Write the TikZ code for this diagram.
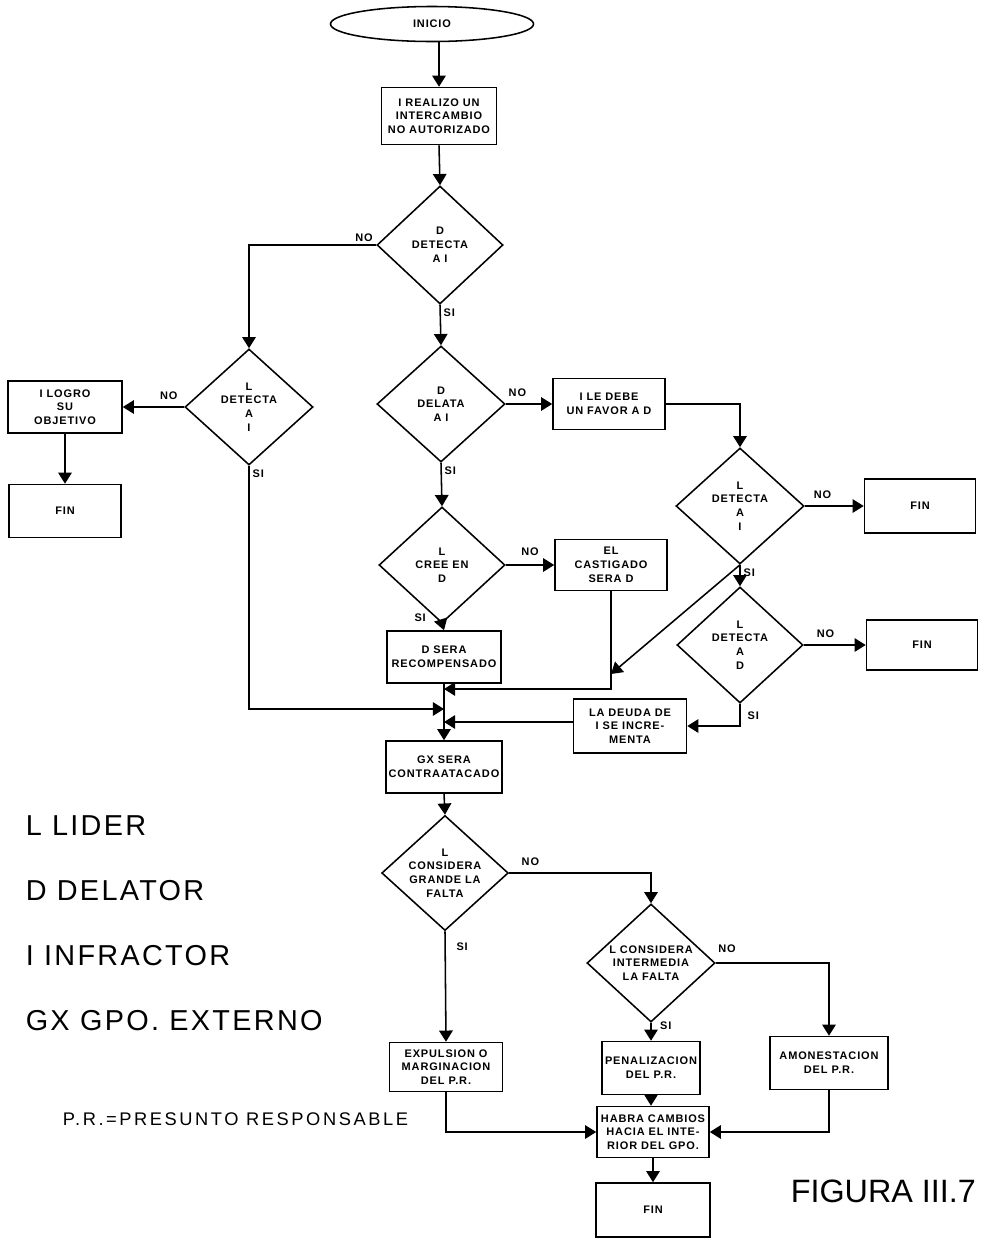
\documentclass[tikz,border=0pt]{standalone}
\usepackage{fontspec}
\setmainfont{Liberation Sans}
\newfontfamily\boxfont[LetterSpace=8]{Liberation Sans}
\newfontfamily\legfont[LetterSpace=8]{Liberation Sans}
\newfontfamily\notefont[LetterSpace=14]{Liberation Sans}
\usetikzlibrary{shapes.geometric, arrows.meta, positioning}

\begin{document}
\begin{tikzpicture}[x=0.025cm, y=-0.025cm, line width=1.1pt,
    flow/.style={-{Triangle[length=2.8mm,width=3.4mm]}},
    proc/.style={draw, rectangle, align=center, inner sep=1pt,
        font=\boxfont\bfseries\fontsize{7.8}{9.8}\selectfont},
    decide/.style={draw, diamond, aspect=1.1, align=center, inner sep=0pt,
        font=\boxfont\bfseries\fontsize{7.8}{9.8}\selectfont},
    lbl/.style={font=\boxfont\bfseries\fontsize{7.8}{9}\selectfont, inner sep=2pt},
    legend/.style={anchor=base west, inner sep=0pt, font=\legfont\fontsize{20.5}{24}\selectfont}]
    \useasboundingbox (0,0) rectangle (984,1239);

    % --- 1. Start and first question ---
    \node[draw, ellipse, minimum width=5.075cm, minimum height=0.875cm,
        font=\boxfont\bfseries\fontsize{7.8}{9}\selectfont] (inicio) at (432,24) {INICIO};
    \node[proc, minimum width=2.875cm, minimum height=1.425cm] (realizo) at (439,116) {I REALIZO UN\\INTERCAMBIO\\NO AUTORIZADO};
    \node[decide, minimum width=3.15cm, minimum height=2.95cm] (detD) at (440,245) {D\\DETECTA\\A I};

    % --- 2. Left branch: L detects I ---
    \node[decide, minimum width=3.2cm, minimum height=2.9cm] (detL) at (249,407) {L\\DETECTA\\A\\I};
    \node[proc, minimum width=2.85cm, minimum height=1.3cm] (logro) at (65,407) {I LOGRO\\SU\\OBJETIVO};
    \node[proc, minimum width=2.8cm, minimum height=1.325cm] (finA) at (65,511) {FIN};

    % --- 3. Middle branch: D informs ---
    \node[decide, minimum width=3.2cm, minimum height=2.9cm] (delata) at (441,404) {D\\DELATA\\A I};
    \node[proc, minimum width=2.8cm, minimum height=1.275cm] (favor) at (609,404) {I LE DEBE\\UN FAVOR A D};
    \node[decide, minimum width=3.15cm, minimum height=2.9cm] (cree) at (442,565) {L\\CREE EN\\D};
    \node[proc, minimum width=2.8cm, minimum height=1.275cm] (castigo) at (611,565) {EL\\CASTIGADO\\SERA D};
    \node[proc, minimum width=2.85cm, minimum height=1.3cm] (premio) at (444,657) {D SERA\\RECOMPENSADO};

    % --- 4. Right branch: the favour ---
    \node[decide, minimum width=3.2cm, minimum height=2.9cm] (detLI) at (740,506) {L\\DETECTA\\A\\I};
    \node[proc, minimum width=2.775cm, minimum height=1.35cm] (finB) at (920,506) {FIN};
    \node[decide, minimum width=3.15cm, minimum height=2.9cm] (detLD) at (740,645) {L\\DETECTA\\A\\D};
    \node[proc, minimum width=2.775cm, minimum height=1.25cm] (finC) at (922,645) {FIN};
    \node[proc, minimum width=2.825cm, minimum height=1.35cm] (deuda) at (630,726) {LA DEUDA DE\\I SE INCRE-\\MENTA};

    % --- 5. Counter attack and sanctions ---
    \node[proc, minimum width=2.9cm, minimum height=1.3cm] (gx) at (444,767) {GX SERA\\CONTRAATACADO};
    \node[decide, minimum width=3.15cm, minimum height=2.85cm] (grande) at (445,873) {L\\CONSIDERA\\GRANDE LA\\FALTA};
    \node[decide, minimum width=3.2cm, minimum height=2.95cm] (media) at (651,963) {L CONSIDERA\\INTERMEDIA\\LA FALTA};
    \node[proc, minimum width=2.825cm, minimum height=1.225cm] (expulsion) at (446,1067) {EXPULSION O\\MARGINACION\\DEL P.R.};
    \node[proc, minimum width=2.45cm, minimum height=1.325cm] (penal) at (651,1068) {PENALIZACION\\DEL P.R.};
    \node[proc, minimum width=2.95cm, minimum height=1.325cm] (amonesta) at (829,1063) {AMONESTACION\\DEL P.R.};
    \node[proc, minimum width=2.8cm, minimum height=1.275cm] (cambios) at (653,1132) {HABRA CAMBIOS\\HACIA EL INTE-\\RIOR DEL GPO.};
    \node[proc, minimum width=2.85cm, minimum height=1.35cm] (finD) at (653,1210) {FIN};

    % merge points on the main column
    \coordinate (m1) at (444,689);
    \coordinate (m2) at (444,709);
    \coordinate (m3) at (444,722);
    \coordinate (jcast) at (611,674);

    % --- 6. Connectors ---
    \draw[flow] (inicio.south -| realizo.north) -- (realizo.north);
    \draw[flow] (realizo.south) -- (detD.north);
    \draw[flow] (detD.west) node[lbl, above left]{NO} -| (detL.north);
    \draw[flow] (detD.south) node[lbl, below right]{SI} -- (delata.north);
    \draw[flow] (detL.west) -- node[lbl, above=3pt, pos=0.25]{NO} (logro.east);
    \draw[flow] (logro.south) -- (finA.north);
    \draw[flow] (detL.south) node[lbl, below right]{SI} |- (m2);
    \draw[flow] (delata.east) -- node[lbl, above=3pt, pos=0.25]{NO} (favor.west);
    \draw[flow] (delata.south) node[lbl, below right]{SI} -- (cree.north);
    \draw[flow] (favor.east) -| (detLI.north);
    \draw[flow] (cree.east) -- node[lbl, above=4pt]{NO} (castigo.west);
    \draw[flow] (cree.south) node[lbl, left=9pt, yshift=4pt]{SI} -- (premio.north);
    \draw[flow] (detLI.east) -- node[lbl, above=3pt, pos=0.3]{NO} (finB.west);
    \draw[flow] (detLI.south) node[lbl, below right]{SI} -- (detLD.north);
    \draw[flow] (detLI.south) -- (jcast);
    \draw[flow] (castigo.south) |- (m1);
    \draw[flow] (detLD.east) -- node[lbl, above=3pt, pos=0.35]{NO} (finC.west);
    \draw[flow] (detLD.south) node[lbl, below right=4pt]{SI} |- (deuda.east);
    \draw[flow] (deuda.west |- m3) -- (m3);
    \draw[flow] (premio.south) -- (gx.north);
    \draw[flow] (gx.south) -- (grande.north);
    \draw[flow] (grande.east) -- node[lbl, above=3pt, pos=0.15]{NO} (grande.east -| media.north) -- (media.north);
    \draw[flow] (grande.south) node[lbl, below right=8pt]{SI} -- (expulsion.north);
    \draw[flow] (media.east) -- node[lbl, above=5pt, pos=0.1]{NO} (media.east -| amonesta.north) -- (amonesta.north);
    \draw[flow] (media.south) node[lbl, right=4pt, yshift=-2pt]{SI} -- (penal.north);
    \draw[flow] (penal.south) -- (cambios.north -| penal.south);
    \draw[flow] (expulsion.south) |- (cambios.west);
    \draw[flow] (amonesta.south) |- (cambios.east);
    \draw[flow] (cambios.south) -- (finD.north);

    % --- 7. Legend ---
    \node[legend] (lider) at (25,835) {L LIDER};
    \node[legend] (delator) at (25,900) {D DELATOR};
    \node[legend] (infractor) at (25,965) {I INFRACTOR};
    \node[legend] (externo) at (25,1030) {GX GPO. EXTERNO};
    \node[anchor=base west, inner sep=0pt, font=\notefont\fontsize{13}{15}\selectfont] (pr) at (62,1125) {P.R.=PRESUNTO RESPONSABLE};
    \node[anchor=base west, inner sep=0pt, font=\fontsize{23}{27}\selectfont] (figura) at (790,1202) {FIGURA III.7};
\end{tikzpicture}
\end{document}
